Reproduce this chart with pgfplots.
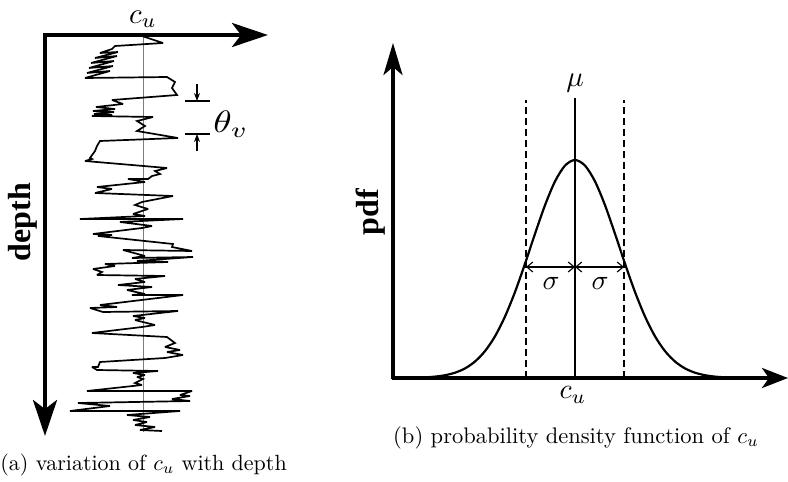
\documentclass[border=0pt]{standalone}
\usepackage{pgfplots}
\pgfplotsset{compat=1.18}
\usetikzlibrary{arrows.meta}
\usepackage{fontspec}
\newfontfamily\labelfont{Liberation Serif}

% sampled profile of c_u against depth (x: c_u, y: depth, both in drawing units)
\pgfplotstableread{
x y
142 36
163 43
115 46
112 49
100 53
118 52
95 58
117 56
91 63
114 61
89 68
113 66
87 73
110 71
85 78
167 77
175 82
172 88
177 95
112 100
123 104
96 107
115 109
93 111
114 112
94 114
112 115
92 116
153 117
137 121
145 126
137 131
178 138
100 141
97 146
95 151
90 158
92 159
85 161
167 168
155 171
160 174
152 176
148 179
128 179
145 182
97 187
112 189
95 193
173 196
142 202
135 205
148 209
133 214
145 216
80 219
183 219
120 222
152 226
142 228
93 234
112 235
98 236
173 244
172 247
192 251
123 250
145 256
132 258
193 257
137 261
168 262
105 264
115 266
93 269
102 272
97 275
165 276
135 279
145 282
118 285
152 287
127 290
145 294
132 295
183 295
100 305
117 307
90 308
103 312
178 311
133 316
145 318
135 320
155 325
142 327
92 333
167 337
175 343
165 347
180 350
167 352
183 355
165 358
100 362
98 367
92 367
97 370
158 371
133 373
145 375
137 377
143 379
135 383
142 385
87 391
192 391
180 395
190 396
172 399
190 401
78 403
110 406
70 411
180 411
127 415
150 417
133 420
147 422
135 425
155 427
140 430
162 431
}\profile

% bell-shaped density (x: c_u, y: pdf)
\pgfplotstableread{
x y
395 0.05
405 0.12
415 0.29
425 0.65
435 1.38
445 2.77
455 5.29
465 9.57
475 16.5
485 26.9
495 41.7
505 61.5
515 86.0
525 114.3
535 144.2
545 172.8
555 196.6
565 212.4
575 218
585 212.4
595 196.6
605 172.8
615 144.2
625 114.3
635 86.0
645 61.5
655 41.7
665 26.9
675 16.5
685 9.57
695 5.29
705 2.77
715 1.38
725 0.65
735 0.29
745 0.12
755 0.05
}\density

\begin{document}
\begin{tikzpicture}
\useasboundingbox (0pt,0pt) rectangle (788pt,482pt);

% (a) variation with depth
\begin{axis}[at={(45pt,447pt)}, anchor=north west, scale only axis,
  width=220pt, height=400pt, xmin=45, xmax=265, ymin=35, ymax=435,
  y dir=reverse, hide axis, clip=false]
  \addplot[draw={rgb,255:red,125;green,125;blue,125}, line width=1pt] coordinates {(143,35) (143,432)};
  \addplot[black, line width=1.7pt, line join=miter, miter limit=3] table[x=x,y=y] {\profile};
  \draw[line width=4pt, -{Stealth[length=36pt,width=24pt,inset=9pt]}] (axis cs:43,35) -- (axis cs:268,35);
  \draw[line width=4pt, -{Stealth[length=36pt,width=24pt,inset=9pt]}] (axis cs:45,33) -- (axis cs:45,436);
  % correlation length marker
  \draw[line width=1.3pt] (axis cs:185,101) -- (axis cs:210,101);
  \draw[line width=1.3pt] (axis cs:185,134) -- (axis cs:210,134);
  \draw[line width=1.1pt, -{Stealth[length=8pt,width=6pt]}] (axis cs:197,84) -- (axis cs:197,101);
  \draw[line width=1.1pt, -{Stealth[length=8pt,width=6pt]}] (axis cs:197,151) -- (axis cs:197,134);
\end{axis}

% (b) probability density function
\begin{axis}[at={(393pt,104pt)}, anchor=south west, scale only axis,
  width=385pt, height=333pt, xmin=393, xmax=778, ymin=0, ymax=333,
  hide axis, clip=false]
  \addplot[black, line width=1.3pt, dash pattern=on 7pt off 4pt] coordinates {(526,0) (526,278)};
  \addplot[black, line width=1.3pt, dash pattern=on 7pt off 4pt] coordinates {(624,0) (624,278)};
  \addplot[black, line width=1.6pt] coordinates {(575,0) (575,280)};
  \addplot[black, line width=2.2pt, smooth] table[x=x,y=y] {\density};
  \draw[line width=1.1pt, {Straight Barb[length=6pt,width=10pt]}-{Straight Barb[length=6pt,width=10pt]}] (axis cs:526,111) -- (axis cs:575,111);
  \draw[line width=1.1pt, {Straight Barb[length=6pt,width=10pt]}-{Straight Barb[length=6pt,width=10pt]}] (axis cs:575,111) -- (axis cs:624,111);
  \draw[line width=3.5pt, -{Stealth[length=32pt,width=19pt,inset=8pt]}] (axis cs:393,-1.5) -- (axis cs:393,335);
  \draw[line width=3.5pt, -{Stealth[length=26pt,width=20pt,inset=7pt]}] (axis cs:391.5,0) -- (axis cs:788,0);
  \node[scale=2.8] at (axis cs:551,95) {$\sigma$};
  \node[scale=2.8] at (axis cs:600,95) {$\sigma$};
\end{axis}

% labels
\node[scale=2.9, inner sep=0pt] at (143pt,463pt) {$c_u$};
\node[rotate=90] at (23pt,260pt) {\labelfont\bfseries\fontsize{32}{34}\selectfont depth};
\node[scale=3.1, xscale=1.2] at (231pt,358pt) {$\theta_v$};
\node[scale=2.2, anchor=west, inner sep=0pt] at (0pt,17pt) {(a) variation of $c_u$ with depth};

\node[rotate=90] at (371pt,270pt) {\labelfont\bfseries\fontsize{32}{34}\selectfont pdf};
\node[scale=2.9] at (575pt,399pt) {$\mu$};
\node[scale=2.8] at (573pt,87pt) {$c_u$};
\node[scale=2.25] at (576pt,44pt) {(b) probability density function of $c_u$};
\end{tikzpicture}
\end{document}
